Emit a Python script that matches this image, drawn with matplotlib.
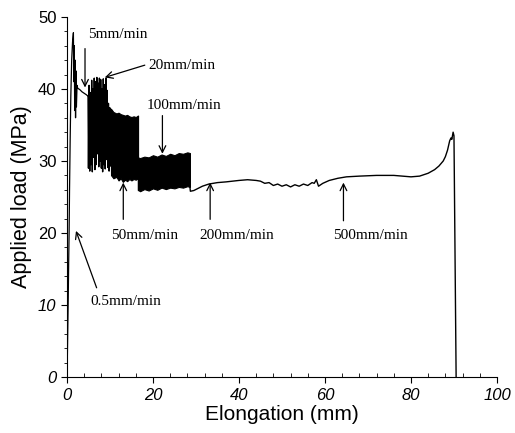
"""
Applied load vs elongation at stepped crosshead speeds
"""
import matplotlib
matplotlib.use("Agg")
import matplotlib.pyplot as plt
from matplotlib.ticker import MultipleLocator

# initial loading at 0.5 mm/min and first peak
x_start = [0.0, 0.1, 0.2, 0.3, 0.4, 0.5, 0.6, 0.75, 0.9, 1.1, 1.3, 1.5, 1.6, 1.7, 1.8, 1.9, 2.0, 2.1, 2.2, 2.35, 2.5, 3.0, 3.5, 4.0, 4.5, 4.9]
y_start = [0.0, 3.0, 7.0, 11.0, 16.0, 20.0, 26.0, 33.0, 39.0, 44.0, 46.5, 47.8, 41.0, 46.0, 37.0, 44.0, 36.0, 42.5, 37.5, 40.5, 40.1, 39.9, 39.6, 39.4, 39.2, 39.0]

# 20 mm/min: individual spikes
x_20 = [4.9, 5.0, 5.15, 5.3, 5.45, 5.6, 5.75, 5.9, 6.05, 6.2, 6.35, 6.5, 6.65, 6.8, 6.95, 7.1, 7.25, 7.4, 7.55, 7.7,
        7.85, 8.0, 8.15, 8.3, 8.45, 8.6, 8.75, 8.9, 9.05, 9.2, 9.35, 9.5, 9.65, 9.8, 9.95, 10.1, 10.25, 10.4]
y_20 = [39.0, 29.0, 40.5, 28.6, 39.5, 29.5, 41.2, 28.5, 40.0, 30.5, 41.5, 28.8, 41.0, 29.5, 41.6, 31.0, 40.8, 29.2, 41.5, 30.0,
        41.3, 29.0, 40.0, 28.5, 41.4, 29.5, 40.6, 28.9, 41.5, 30.2, 39.8, 29.1, 38.0, 28.6, 37.4, 29.3, 37.2, 28.0]

# 50 mm/min: dense band (upper / lower envelope)
x_50 = [10.3, 10.8, 11.5, 12.0, 12.5, 13.0, 13.5, 14.0, 14.5, 15.0, 15.5, 16.0, 16.5]
up_50 = [37.2, 36.8, 36.6, 36.7, 36.5, 36.4, 36.3, 36.4, 36.2, 36.1, 36.2, 36.1, 36.3]
lo_50 = [28.0, 27.6, 27.8, 27.3, 27.6, 27.1, 27.4, 27.2, 27.5, 27.3, 27.5, 27.4, 27.6]

# 100 mm/min: dense band
x_100 = [16.5, 17.0, 18.0, 19.0, 20.0, 21.0, 22.0, 23.0, 24.0, 25.0, 26.0, 27.0, 28.0, 28.6]
up_100 = [30.5, 30.4, 30.6, 30.5, 30.8, 30.6, 30.9, 30.7, 31.0, 30.8, 31.1, 31.0, 31.2, 31.1]
lo_100 = [26.0, 25.8, 26.1, 25.9, 26.2, 26.0, 26.3, 26.1, 26.3, 26.2, 26.4, 26.3, 26.5, 26.4]

# 200 / 500 mm/min and fracture
x_end = [28.6, 28.7, 29.5, 30.5, 31.5, 33.0, 35.0, 37.0, 40.0, 42.0, 44.0, 45.0, 46.0, 47.0, 48.0, 49.0, 50.0, 51.0, 52.0, 53.0, 54.0, 55.0, 56.0, 57.0, 57.5, 58.0, 58.5, 59.5, 61.0, 63.0, 65.0, 68.0, 72.0, 76.0, 80.0, 82.0, 84.0, 85.5, 86.5, 87.5, 88.0, 88.5, 89.0, 89.3, 89.5, 89.8, 90.0, 90.5]
y_end = [26.4, 25.8, 25.9, 26.2, 26.5, 26.8, 27.0, 27.1, 27.3, 27.4, 27.3, 27.2, 26.9, 27.0, 26.6, 26.8, 26.5, 26.7, 26.4, 26.7, 26.5, 26.8, 26.6, 27.0, 26.9, 27.4, 26.5, 26.9, 27.3, 27.6, 27.8, 27.9, 28.0, 28.0, 27.8, 27.9, 28.3, 28.8, 29.3, 30.0, 30.6, 31.5, 32.8, 33.2, 33.0, 34.0, 33.5, 0.0]

# speed annotations: text, text position, arrow tip
labels = ["0.5mm/min", "5mm/min", "20mm/min", "50mm/min", "100mm/min", "200mm/min", "500mm/min"]
text_xy = [(13.7, 10.5), (4.9, 47.6), (18.9, 43.2), (18.1, 19.6), (18.6, 37.7), (39.4, 19.6), (70.5, 19.6)]
arrow_from = [(6.9, 12.4), (4.2, 45.6), (18.1, 43.3), (13.1, 21.9), (22.2, 36.3), (33.3, 21.9), (64.3, 21.7)]
arrow_to = [(2.1, 20.3), (4.2, 40.2), (8.8, 41.6), (13.1, 27.0), (22.2, 31.0), (33.3, 27.0), (64.3, 27.0)]
text_ha = ["center", "left", "left", "center", "left", "center", "center"]

fig = plt.figure(figsize=(5.15, 4.33), dpi=100)
ax = fig.add_axes([0.130, 0.129, 0.835, 0.832])

ax.plot(x_start, y_start, color='black', linewidth=0.9)
ax.plot(x_20, y_20, color='black', linewidth=1.0)
ax.fill_between(x_50, lo_50, up_50, color='black', linewidth=0.8)
ax.plot([16.5, 16.5], [36.3, 26.0], color='black', linewidth=0.9)
ax.fill_between(x_100, lo_100, up_100, color='black', linewidth=0.8)
ax.plot(x_end, y_end, color='black', linewidth=1.0)

for lab, txy, a0, a1, ha in zip(labels, text_xy, arrow_from, arrow_to, text_ha):
    ax.text(txy[0], txy[1], lab, ha=ha, va='center', fontsize=11, family='Liberation Serif')
    ax.annotate('', xy=a1, xytext=a0,
                arrowprops=dict(arrowstyle='->', color='black', lw=0.9, shrinkA=0, shrinkB=0,
                                mutation_scale=12))

ax.set_xlim(0, 100)
ax.set_ylim(0, 50)
ax.spines['top'].set_visible(False)
ax.spines['right'].set_visible(False)
ax.xaxis.set_major_locator(MultipleLocator(20))
ax.xaxis.set_minor_locator(MultipleLocator(4))
ax.yaxis.set_major_locator(MultipleLocator(10))
ax.yaxis.set_minor_locator(MultipleLocator(2))
ax.tick_params(axis='x', which='major', direction='out', length=4, labelsize=12)
ax.tick_params(axis='x', which='minor', direction='in', length=3)
ax.tick_params(axis='y', which='major', direction='out', length=4, labelsize=12)
ax.tick_params(axis='y', which='minor', direction='out', length=2.5)

for lbl in ax.get_xticklabels():
    lbl.set_family('Liberation Sans')
    lbl.set_style('italic')
for lbl in ax.get_yticklabels():
    lbl.set_family('Liberation Sans')
    if lbl.get_text() in ('0', '10'):
        lbl.set_style('italic')

ax.set_xlabel("Elongation (mm)", fontsize=15, family='Liberation Sans', labelpad=2)
ax.set_ylabel("Applied load (MPa)", fontsize=15.5, family='Liberation Sans', labelpad=4)

plt.savefig("out.png", dpi=100)
